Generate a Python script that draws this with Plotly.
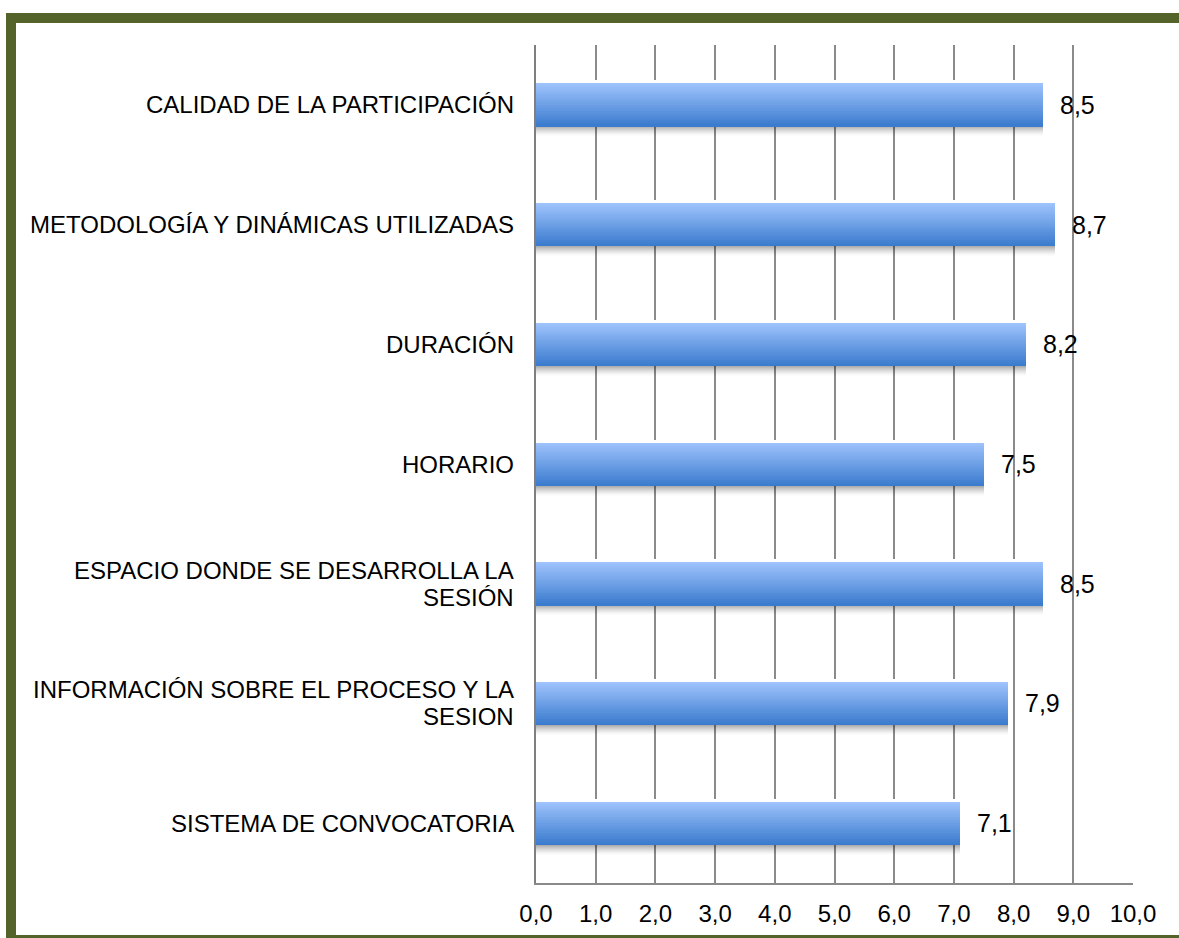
import plotly.graph_objects as go

# Survey ratings per aspect (top to bottom)
categories = [
    "CALIDAD DE LA PARTICIPACIÓN",
    "METODOLOGÍA Y DINÁMICAS UTILIZADAS",
    "DURACIÓN",
    "HORARIO",
    "ESPACIO DONDE SE DESARROLLA LA<br>SESIÓN",
    "INFORMACIÓN SOBRE EL PROCESO Y LA<br>SESION",
    "SISTEMA DE CONVOCATORIA",
]
scores = [8.5, 8.7, 8.2, 7.5, 8.5, 7.9, 7.1]
tick_values = [0, 1, 2, 3, 4, 5, 6, 7, 8, 9, 10]

W, H = 1179, 938
PLOT_L, PLOT_R = 536, 1133
PLOT_T, PLOT_B = 45, 883
FONT = "Liberation Sans, Arial, sans-serif"

positions = list(range(len(categories)))
px_per_cat = (PLOT_B - PLOT_T) / len(categories)
unit = 1.0 / px_per_cat          # one pixel in category units
bar_w = 43 * unit


def mix(c1, c2, t):
    return "rgb({},{},{})".format(*[round(a + (b - a) * t) for a, b in zip(c1, c2)])


fig = go.Figure()

# thin white glow above each bar
fig.add_trace(go.Bar(
    x=scores, y=positions, orientation="h",
    width=3 * unit, offset=-bar_w / 2 - 3 * unit,
    marker=dict(color="white", line=dict(width=0)),
    hoverinfo="skip", showlegend=False,
))
# soft translucent shadow under each bar
shadow_rows = 10
for k in range(shadow_rows):
    alpha = 0.32 * (1 - k / shadow_rows) ** 1.5
    fig.add_trace(go.Bar(
        x=scores, y=positions, orientation="h",
        width=unit, offset=bar_w / 2 + k * unit,
        marker=dict(color=f"rgba(0,0,0,{alpha:.3f})", line=dict(width=0)),
        hoverinfo="skip", showlegend=False,
    ))

# gradient-filled bars built from thin horizontal stripes
stripes = 22
top_c, bot_c = (157, 194, 252), (60, 124, 206)
for k in range(stripes):
    t = k / (stripes - 1)
    fig.add_trace(go.Bar(
        x=scores, y=positions, orientation="h",
        width=bar_w / stripes * 1.15, offset=-bar_w / 2 + k * bar_w / stripes,
        marker=dict(color=mix(top_c, bot_c, t), line=dict(width=0)),
        hoverinfo="skip", showlegend=False,
    ))

annotations = []
# category labels, centred lines right-aligned to the axis
line_gap = 27
for i, label in enumerate(categories):
    lines = label.split("<br>")
    n = len(lines)
    for j, ln in enumerate(lines):
        annotations.append(dict(
            text=ln, xref="paper", x=(PLOT_L - 20) / W, xanchor="right",
            yref="y", y=i, yanchor="middle", yshift=((n - 1) / 2 - j) * line_gap,
            showarrow=False, font=dict(family=FONT, size=24, color="#000000"),
        ))
# value labels
for i, v in enumerate(scores):
    annotations.append(dict(
        text=f"{v:.1f}".replace(".", ","), xref="x", x=v, xanchor="left", xshift=15,
        yref="y", y=i, yanchor="middle",
        showarrow=False, font=dict(family=FONT, size=25, color="#000000"),
    ))

fig.update_layout(
    width=W, height=H, autosize=False,
    margin=dict(l=0, r=0, t=0, b=0, pad=0, autoexpand=False),
    paper_bgcolor="white", plot_bgcolor="white",
    barmode="overlay", bargap=0,
    separators=",.",
    font=dict(family=FONT, size=24, color="#000000"),
    xaxis=dict(
        domain=[PLOT_L / W, PLOT_R / W], range=[0, 10], automargin=False,
        tickmode="array", tickvals=tick_values, tickformat=".1f",
        showgrid=True, gridcolor="#8a8a8a", gridwidth=1.8,
        showline=True, linecolor="#8a8a8a", linewidth=2,
        zeroline=False, ticks="", ticklabelstandoff=8,
        tickfont=dict(family=FONT, size=24, color="#000000"),
    ),
    yaxis=dict(
        domain=[(H - PLOT_B) / H, (H - PLOT_T) / H], automargin=False,
        range=[len(categories) - 0.5, -0.5],
        showticklabels=False, showgrid=False, zeroline=False,
        showline=True, linecolor="#7f7f7f", linewidth=2,
    ),
    annotations=annotations,
    shapes=[dict(
        type="rect", xref="paper", yref="paper", layer="above",
        x0=11 / W, x1=(W + 20) / W, y0=(H - 940) / H, y1=(H - 18) / H,
        line=dict(color="#54632a", width=10),
    )],
)

fig.write_html("out.html")
